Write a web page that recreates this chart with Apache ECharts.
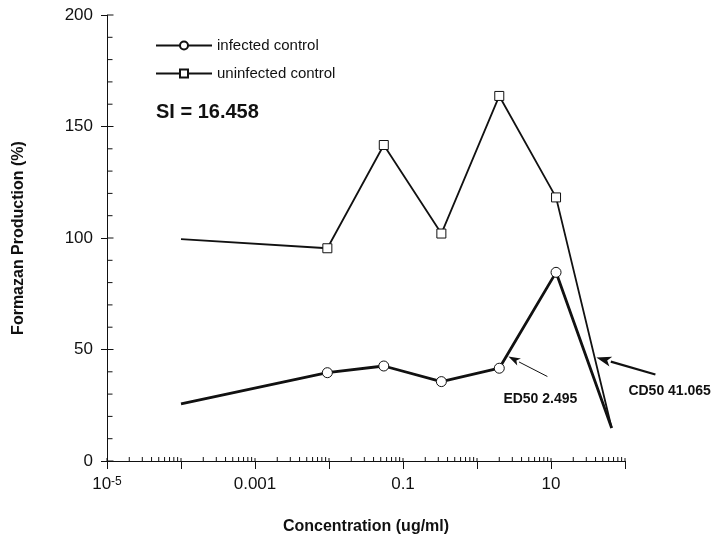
<!DOCTYPE html>
<html>
<head>
<meta charset="utf-8">
<script src="https://cdn.jsdelivr.net/npm/echarts@6/dist/echarts.min.js"></script>
<style>
  html, body { margin: 0; padding: 0; background: #fff; }
  #grafico { width: 714px; height: 554px; }
</style>
</head>
<body>
<div id="grafico"></div>
<script>
// concentrations (ug/ml)
var concentracion = [0.0001, 0.0095, 0.055, 0.33, 2.0, 11.7, 66];
// formazan production (%)
var infectado = [25.6, 39.6, 42.6, 35.6, 41.6, 84.6, 14.8];
var noInfectado = [99.5, 95.4, 141.7, 102, 163.7, 118.2, 14.8];

var nombres = ['infected control', 'uninfected control'];
var ed50 = 2.495;
var cd50 = 41.065;
var textoSI = 'SI = 16.458';

// tick labels of the x axis, keyed by exponent
var etiquetasX = { '-5': '10{sup|-5}', '-3': '0.001', '-1': '0.1', '1': '10' };
var decadas = [-5, -4, -3, -2, -1, 0, 1, 2];
var multiplos = [2, 3, 4, 5, 6, 7, 8, 9];
var yMayores = [0, 50, 100, 150, 200];
var yPaso = 10;

var fuente = '"Liberation Sans", Arial, sans-serif';
var xMin = 0.00001;

function puntos(ys) {
    return concentracion.map(function (x, i) {
        var item = { value: [x, ys[i]] };
        if (i === 0 || i === concentracion.length - 1) item.symbol = 'none';
        return item;
    });
}

// tick marks pointing into the plot on the log axis (minor 2..9 and inner half of majors)
var marcasX = [];
decadas.forEach(function (d) {
    marcasX.push([Math.pow(10, d), 0, 3]);
    if (d < 2) multiplos.forEach(function (m) { marcasX.push([m * Math.pow(10, d), 0, 4]); });
});

var myChart = echarts.init(document.getElementById('grafico'));

var option = {
    backgroundColor: '#fff',
    animation: false,
    grid: { left: 107, right: 89, top: 15, bottom: 93 },
    legend: {
        data: nombres,
        orient: 'vertical',
        left: 150,
        top: 33,
        itemWidth: 56,
        itemHeight: 10,
        itemGap: 13,
        textStyle: { fontFamily: fuente, fontSize: 15, color: '#111' }
    },
    xAxis: {
        type: 'log',
        logBase: 10,
        min: xMin,
        max: 100,
        splitNumber: 7,
        splitLine: { show: false },
        name: 'Concentration (ug/ml)',
        nameLocation: 'middle',
        nameGap: 58,
        nameTextStyle: { fontFamily: fuente, fontSize: 16, fontWeight: 'bold', color: '#111' },
        axisLine: { lineStyle: { color: '#111', width: 1 } },
        axisTick: { show: true, inside: false, length: 8, interval: 0, lineStyle: { color: '#111' } },
        axisLabel: {
            interval: 1,
            margin: 15,
            fontFamily: fuente,
            fontSize: 17,
            color: '#111',
            formatter: function (val) {
                var e = Math.round(Math.log10(val));
                return etiquetasX[String(e)] || '';
            },
            rich: {
                sup: { fontFamily: fuente, fontSize: 12, color: '#111', verticalAlign: 'top', lineHeight: 10 }
            }
        }
    },
    yAxis: {
        type: 'value',
        min: 0,
        max: 200,
        interval: 50,
        name: 'Formazan Production (%)',
        nameLocation: 'middle',
        nameGap: 80,
        nameTextStyle: { fontFamily: fuente, fontSize: 16, fontWeight: 'bold', color: '#111' },
        splitLine: { show: false },
        axisLine: { show: true, lineStyle: { color: '#111', width: 1 } },
        axisTick: { show: true, inside: false, length: 6, lineStyle: { color: '#111' } },
        axisLabel: { margin: 14, fontFamily: fuente, fontSize: 17, color: '#111' }
    },
    series: [
        {
            name: nombres[0],
            type: 'line',
            data: puntos(infectado),
            symbol: 'circle',
            symbolSize: 10,
            showAllSymbol: true,
            lineStyle: { color: '#111', width: 2.8 },
            itemStyle: { color: '#fff', borderColor: '#111', borderWidth: 1 },
            z: 3
        },
        {
            name: nombres[1],
            type: 'line',
            data: puntos(noInfectado),
            symbol: 'rect',
            symbolSize: 9,
            showAllSymbol: true,
            lineStyle: { color: '#111', width: 1.8 },
            itemStyle: { color: '#fff', borderColor: '#111', borderWidth: 1 },
            z: 2
        },
        {
            type: 'custom',
            silent: true,
            data: marcasX,
            renderItem: function (params, api) {
                var p = api.coord([api.value(0), api.value(1)]);
                var l = api.value(2);
                return {
                    type: 'line',
                    shape: { x1: p[0], y1: p[1], x2: p[0], y2: p[1] - l },
                    style: { stroke: '#111', lineWidth: 1 }
                };
            },
            z: 1
        }
    ]
};

myChart.setOption(option);

function flecha(tip, tail, ancho, largo, abre) {
    var dx = tail[0] - tip[0], dy = tail[1] - tip[1];
    var L = Math.sqrt(dx * dx + dy * dy);
    var ux = dx / L, uy = dy / L;
    var bx = tip[0] + ux * largo, by = tip[1] + uy * largo;
    return [
        {
            type: 'line',
            shape: { x1: bx, y1: by, x2: tail[0], y2: tail[1] },
            style: { stroke: '#111', lineWidth: ancho }
        },
        {
            type: 'polygon',
            shape: {
                points: [
                    tip,
                    [bx - uy * abre / 2, by + ux * abre / 2],
                    [tip[0] + ux * largo * 0.75, tip[1] + uy * largo * 0.75],
                    [bx + uy * abre / 2, by - ux * abre / 2]
                ]
            },
            style: { fill: '#111' }
        }
    ];
}

// ticks pointing into the plot on the y axis (minor every 10, inner half of majors)
var p1 = myChart.convertToPixel({ seriesIndex: 0 }, [1, 0]);
var p10 = myChart.convertToPixel({ seriesIndex: 0 }, [10, 0]);
var pxDecada = p10[0] - p1[0];
var ejeXpx = Math.round(p1[0] + Math.log10(xMin) * pxDecada) + 0.5;
var marcasY = [];
for (var v = 0; v <= 200; v += yPaso) {
    var py = myChart.convertToPixel({ seriesIndex: 0 }, [1, v])[1];
    var largoY = yMayores.indexOf(v) >= 0 ? 6 : 5;
    marcasY.push({
        type: 'line',
        shape: { x1: ejeXpx, y1: py, x2: ejeXpx + largoY, y2: py },
        style: { stroke: '#111', lineWidth: 1 }
    });
}

var pe = myChart.convertToPixel({ seriesIndex: 0 }, [ed50, 50]);
var pc = myChart.convertToPixel({ seriesIndex: 1 }, [cd50, 50]);
var tipE = [pe[0] + 2, pe[1] + 7];
var tipC = [pc[0], pc[1] + 8];

var graficos = marcasY
    .concat(flecha(tipE, [tipE[0] + 39, tipE[1] + 20], 1, 12, 8))
    .concat(flecha(tipC, [tipC[0] + 59, tipC[1] + 17], 2.2, 15, 10))
    .concat([
        {
            type: 'text', left: tipE[0] - 5, top: tipE[1] + 36,
            style: { text: 'ED50 ' + ed50, font: 'bold 14px ' + fuente, fill: '#111' }
        },
        {
            type: 'text', left: tipC[0] + 32, top: tipC[1] + 27,
            style: { text: 'CD50 ' + cd50, font: 'bold 14px ' + fuente, fill: '#111' }
        },
        {
            type: 'text', left: 156, top: 102,
            style: { text: textoSI, font: 'bold 20px ' + fuente, fill: '#111' }
        }
    ]);

myChart.setOption({ graphic: graficos });
</script>
</body>
</html>
